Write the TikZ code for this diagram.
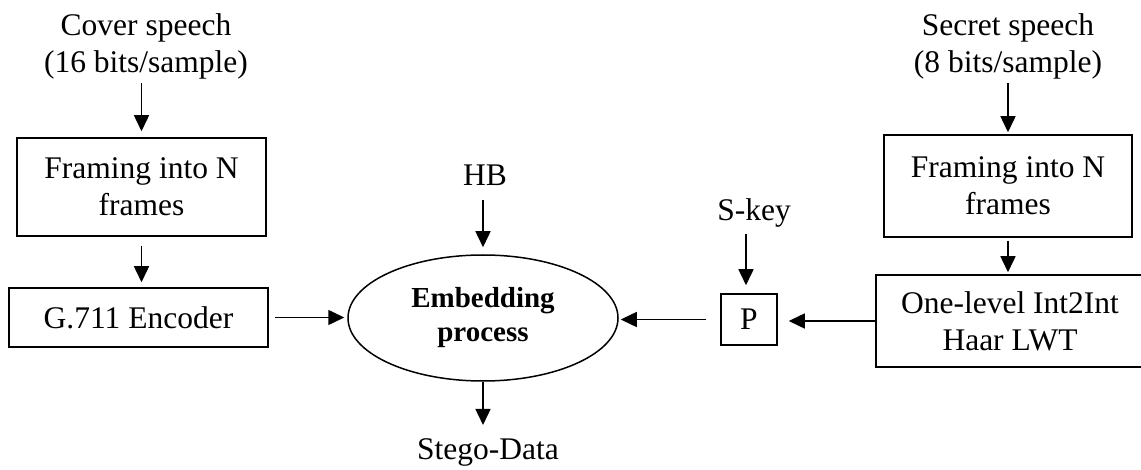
\documentclass[tikz,border=0pt]{standalone}
\usepackage{fontspec}
\setmainfont{Liberation Serif}
\usetikzlibrary{arrows.meta,shapes.geometric}
\begin{document}
\begin{tikzpicture}[x=1pt,y=-1pt,
  every node/.style={font=\fontsize{31.5}{37}\selectfont},
  lbl/.style={align=center,inner sep=0pt},
  blk/.style={draw,line width=1.5pt,align=center,inner sep=0pt},
  arr/.style={line width=1.5pt,-{Triangle[length=16pt,width=15pt]}}]
\useasboundingbox (0,0) rectangle (1141,470);

% left branch: cover speech
\node[lbl] (cover) at (146,46.5) {Cover speech\\(16 bits/sample)};
\node[blk,minimum width=249pt,minimum height=98pt] (fr1) at (141.5,187) {Framing into N\\frames};
\node[blk,minimum width=259pt,minimum height=59pt] (g711) at (138.5,317.5) {G.711 Encoder};

% centre: embedding
\node[draw,ellipse,line width=1.5pt,inner sep=0pt,minimum width=270pt,minimum height=126pt,
      font=\fontsize{29}{34}\selectfont\bfseries,align=center] (emb) at (483,318) {Embedding\\process};
\node[lbl] (hb) at (485,175) {HB};
\node[lbl] (stego) at (488,452) {Stego-Data};

% permutation with secret key
\node[lbl] (skey) at (754,213) {S-key};
\node[blk,minimum width=56pt,minimum height=51pt] (P) at (749,319.5) {P};

% right branch: secret speech
\node[lbl] (secret) at (1008,46.5) {Secret speech\\(8 bits/sample)};
\node[blk,minimum width=248pt,minimum height=102pt] (fr2) at (1008,186) {Framing into N\\frames};
\node[blk,minimum width=268pt,minimum height=92pt] (lwt) at (1010,321) {One-level Int2Int\\Haar LWT};

% connectors
\draw[arr,shorten <=4pt,shorten >=6pt] (fr1.north |- cover.south) -- (fr1.north);
\draw[arr,shorten <=9pt,shorten >=5pt] (fr1.south) -- (fr1.south |- g711.north);
\draw[arr,shorten <=6pt,shorten >=3pt] (g711.east) -- (g711.east -| emb.west);
\draw[arr,shorten <=14pt,shorten >=7pt] (emb.north |- hb.south) -- (emb.north);
\draw[arr,shorten >=13pt] (emb.south) -- (emb.south |- stego.north);
\draw[arr,shorten <=6pt,shorten >=8pt] ([xshift=-3pt]P.north |- skey.south) -- ([xshift=-3pt]P.north);
\draw[arr,shorten <=14pt,shorten >=2pt] (P.west) -- (P.west -| emb.east);
\draw[arr,shorten >=11pt] (lwt.west) -- (lwt.west -| P.east);
\draw[arr,shorten <=4pt,shorten >=2pt] (fr2.north |- secret.south) -- (fr2.north);
\draw[arr,shorten <=3pt,shorten >=2pt] (fr2.south) -- (fr2.south |- lwt.north);
\end{tikzpicture}
\end{document}
